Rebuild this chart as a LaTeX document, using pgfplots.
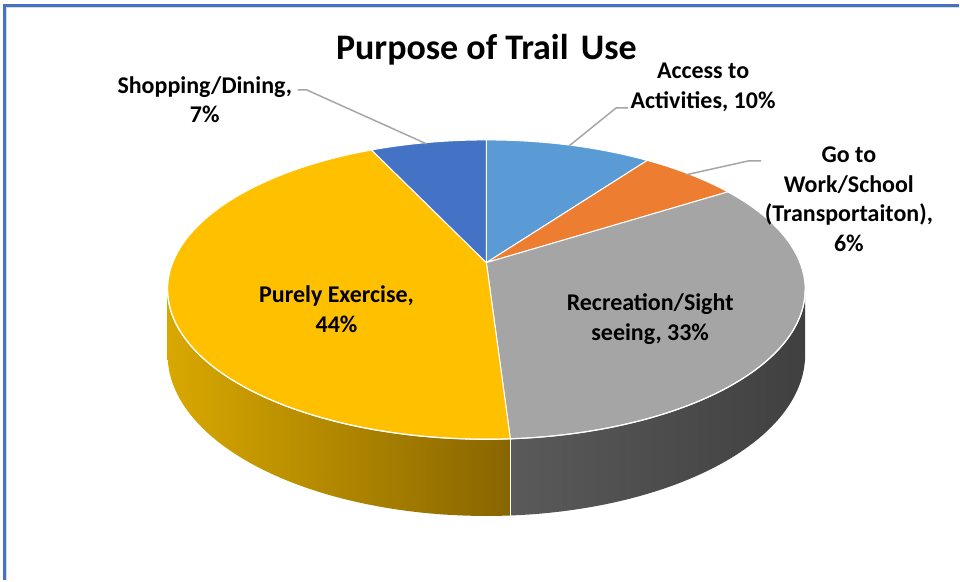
\documentclass[border=0pt]{standalone}
\usepackage{pgfplots}
\usepackage{pgfplotstable}
\pgfplotsset{compat=1.18}
\usepackage{fontspec}
\setmainfont{Carlito}
\definecolor{cAccess}{HTML}{5B9BD5}
\definecolor{cWork}{HTML}{ED7D31}
\definecolor{cRec}{HTML}{A5A5A5}
\definecolor{cEx}{HTML}{FFC000}
\definecolor{cShop}{HTML}{4472C4}
\definecolor{cExL}{HTML}{D8A800}
\definecolor{cExR}{HTML}{886500}
\definecolor{cRecL}{HTML}{5A5A5A}
\definecolor{cRecR}{HTML}{404040}
\definecolor{cLead}{HTML}{A6A6A6}
\definecolor{cFrame}{HTML}{4472C4}

\pgfplotstableread{
label value
Access 10
Work 6
Recreation 33
Exercise 44
Shopping 7
}\piedata

% projection parameters (pixels)
\def\CX{487}\def\CY{318}\def\PA{314}\def\PB{145}\def\PK{0.18}\def\PH{63}
\newcommand\topx[1]{\CX+\PA*sin(#1)/(1+\PK*cos(#1))}
\newcommand\topy[1]{\CY+\PB*cos(#1)/(1+\PK*cos(#1))}
\newcommand\boty[1]{\CY+(\PB*cos(#1)-\PH)/(1+\PK*cos(#1))}

\pgfplotstablegetelem{0}{value}\of\piedata \let\vA\pgfplotsretval
\pgfplotstablegetelem{1}{value}\of\piedata \let\vB\pgfplotsretval
\pgfplotstablegetelem{2}{value}\of\piedata \let\vC\pgfplotsretval
\pgfplotstablegetelem{3}{value}\of\piedata \let\vD\pgfplotsretval
\pgfplotstablegetelem{4}{value}\of\piedata \let\vE\pgfplotsretval
\pgfmathsetmacro\tA{0}
\pgfmathsetmacro\tB{\tA+3.6*\vA}
\pgfmathsetmacro\tC{\tB+3.6*\vB}
\pgfmathsetmacro\tD{\tC+3.6*\vC}
\pgfmathsetmacro\tE{\tD+3.6*\vD}
\pgfmathsetmacro\tF{\tE+3.6*\vE}
\pgfmathsetmacro\tR{acos(-\PK)}
\pgfmathsetmacro\tL{360-\tR}
\pgfmathsetmacro\xR{\topx{\tR}}\pgfmathsetmacro\yR{\topy{\tR}}
\pgfmathsetmacro\xL{\topx{\tL}}\pgfmathsetmacro\yL{\topy{\tL}}
\pgfmathsetmacro\xD{\topx{\tD}}\pgfmathsetmacro\yD{\topy{\tD}}
\pgfmathsetmacro\yDb{\boty{\tD}}

\begin{document}
\begin{tikzpicture}
\begin{axis}[
  width=960pt, height=581pt, scale only axis,
  xmin=0, xmax=960, ymin=0, ymax=581,
  axis lines=none, clip=false,
]
% sides
\addplot[draw=none, left color=cRecL, right color=cRecR, domain=\tR:\tD, samples=50, variable=\t]
  ({\topx{\t}}, {\boty{\t}}) -- (axis cs:\xD,\yD) -- (axis cs:\xR,\yR) -- cycle;
\addplot[draw=none, left color=cExL, right color=cExR, domain=\tD:\tL, samples=50, variable=\t]
  ({\topx{\t}}, {\boty{\t}}) -- (axis cs:\xL,\yL) -- (axis cs:\xD,\yD) -- cycle;
% top faces
\addplot[fill=cAccess, draw=white, line width=1pt, line join=round, domain=\tA:\tB, samples=30, variable=\t]
  ({\topx{\t}}, {\topy{\t}}) -- (axis cs:\CX,\CY) -- cycle;
\addplot[fill=cWork, draw=white, line width=1pt, line join=round, domain=\tB:\tC, samples=30, variable=\t]
  ({\topx{\t}}, {\topy{\t}}) -- (axis cs:\CX,\CY) -- cycle;
\addplot[fill=cRec, draw=white, line width=1pt, line join=round, domain=\tC:\tD, samples=80, variable=\t]
  ({\topx{\t}}, {\topy{\t}}) -- (axis cs:\CX,\CY) -- cycle;
\addplot[fill=cEx, draw=white, line width=1pt, line join=round, domain=\tD:\tE, samples=90, variable=\t]
  ({\topx{\t}}, {\topy{\t}}) -- (axis cs:\CX,\CY) -- cycle;
\addplot[fill=cShop, draw=white, line width=1pt, line join=round, domain=\tE:\tF, samples=30, variable=\t]
  ({\topx{\t}}, {\topy{\t}}) -- (axis cs:\CX,\CY) -- cycle;
% front rim highlight
\addplot[white, line width=1.2pt, domain=\tR:\tL, samples=120, variable=\t]
  ({\topx{\t}}, {\topy{\t}});
\draw[white, line width=1pt] (axis cs:\xD,\yD) -- (axis cs:\xD,\yDb);
% leader lines
\draw[cLead, line width=1.5pt] (axis cs:298,491) -- (axis cs:307,491) -- (axis cs:427,437);
\draw[cLead, line width=1.5pt] (axis cs:570,435) -- (axis cs:617,473) -- (axis cs:629,473);
\draw[cLead, line width=1.5pt] (axis cs:687,406) -- (axis cs:750,420) -- (axis cs:762,420);
% labels
\tikzset{lab/.style={align=center, font=\fontsize{24}{29.5}\selectfont\bfseries, text=black, inner sep=0pt}}
\node[lab] at (axis cs:205,481) {Shopping/Dining,\\7\%};
\node[lab] at (axis cs:704,493.5) {Access to\\Activities, 10\%};
\node[lab] at (axis cs:850,381.5) {Go to\\Work/School\\(Transportaiton),\\6\%};
\node[lab] at (axis cs:337,271.5) {Purely Exercise,\\44\%};
\node[lab] at (axis cs:651,261.5) {Recreation/Sight\\seeing, 33\%};
\node[font=\fontsize{36}{42}\selectfont\bfseries, text=black, inner sep=0pt] at (axis cs:487,531) {Purpose of Trail\hspace{4pt} Use};
% frame
\draw[black!15, line width=1.5pt] (axis cs:6.5,0) -- (axis cs:6.5,573.5) -- (axis cs:960,573.5);
\draw[cFrame, line width=2.5pt] (axis cs:4.5,0) -- (axis cs:4.5,575.5) -- (axis cs:960,575.5);
\path (axis cs:0,0) rectangle (axis cs:960,581);
\end{axis}
\end{tikzpicture}
\end{document}
